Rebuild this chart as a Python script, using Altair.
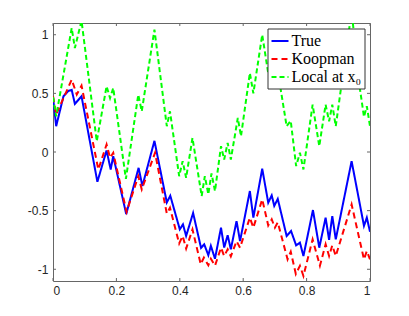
import altair as alt
import pandas as pd

series_names = ["True", "Koopman", "Local at x₀"]
series_colors = ["#0000ff", "#ff0000", "#00ff00"]

true_x = [0, 0.01, 0.033, 0.048, 0.059, 0.069, 0.09, 0.14, 0.169, 0.182, 0.19, 0.231, 0.27, 0.282,
          0.32, 0.359, 0.37, 0.40, 0.41, 0.42, 0.442, 0.467, 0.477, 0.49, 0.498, 0.511, 0.53, 0.54,
          0.551, 0.561, 0.579, 0.59, 0.621, 0.632, 0.66, 0.679, 0.69, 0.698, 0.709, 0.737, 0.751,
          0.767, 0.779, 0.79, 0.82, 0.84, 0.86, 0.871, 0.881, 0.892, 0.942, 0.981, 0.99, 1.0]
true_y = [0.47, 0.22, 0.475, 0.52, 0.53, 0.41, 0.475, -0.254, 0.013, -0.149, -0.035, -0.53, -0.135,
          -0.29, 0.095, -0.43, -0.373, -0.66, -0.617, -0.716, -0.52, -0.818, -0.787, -0.88, -0.80,
          -0.91, -0.645, -0.815, -0.71, -0.83, -0.589, -0.76, -0.333, -0.56, -0.143, -0.432, -0.37,
          -0.46, -0.40, -0.716, -0.674, -0.796, -0.773, -0.887, -0.495, -0.816, -0.56, -0.75, -0.546,
          -0.745, -0.078, -0.63, -0.56, -0.68]

koop_x = [0, 0.01, 0.059, 0.075, 0.09, 0.143, 0.169, 0.18, 0.19, 0.232, 0.269, 0.28, 0.322, 0.359,
          0.369, 0.398, 0.409, 0.42, 0.44, 0.466, 0.476, 0.49, 0.498, 0.511, 0.53, 0.54, 0.551, 0.561,
          0.579, 0.59, 0.621, 0.632, 0.66, 0.679, 0.69, 0.70, 0.709, 0.74, 0.75, 0.766, 0.779, 0.79,
          0.819, 0.842, 0.86, 0.871, 0.881, 0.892, 0.942, 0.981, 0.99, 1.0]
koop_y = [0.475, 0.32, 0.617, 0.49, 0.566, -0.149, 0.064, -0.05, -0.007, -0.51, -0.206, -0.319,
          -0.007, -0.525, -0.475, -0.78, -0.716, -0.824, -0.66, -0.957, -0.90, -0.966, -0.91, -0.97,
          -0.816, -0.887, -0.83, -0.89, -0.76, -0.816, -0.56, -0.645, -0.404, -0.626, -0.574, -0.645,
          -0.60, -0.915, -0.85, -1.04, -0.97, -1.057, -0.745, -0.97, -0.787, -0.887, -0.796, -0.887,
          -0.447, -0.915, -0.844, -0.915]

local_x = [0, 0.01, 0.059, 0.069, 0.09, 0.138, 0.169, 0.18, 0.19, 0.23, 0.269, 0.28, 0.32, 0.359,
           0.369, 0.398, 0.409, 0.42, 0.44, 0.469, 0.479, 0.49, 0.50, 0.511, 0.53, 0.54, 0.551, 0.561,
           0.583, 0.593, 0.621, 0.632, 0.66, 0.679, 0.69, 0.698, 0.709, 0.737, 0.75, 0.767, 0.779,
           0.79, 0.819, 0.84, 0.86, 0.871, 0.881, 0.892, 0.942, 0.966, 0.981, 0.99, 1.0]
local_y = [0.47, 0.305, 1.057, 0.887, 1.12, 0.092, 0.56, 0.46, 0.546, -0.23, 0.489, 0.347, 1.043,
           0.22, 0.347, -0.206, -0.078, -0.22, 0.12, -0.376, -0.206, -0.36, -0.183, -0.333, 0.05,
           -0.064, 0.078, -0.064, 0.29, 0.134, 0.674, 0.50, 1.0, 0.67, 0.72, 0.63, 0.69, 0.22, 0.265,
           -0.12, -0.007, -0.149, 0.404, 0.05, 0.404, 0.262, 0.404, 0.22, 1.2, 0.58, 0.30, 0.39, 0.22]

x_ticks = [0, 0.2, 0.4, 0.6, 0.8, 1]
y_ticks = [-1, -0.5, 0, 0.5, 1]

rows = []
for name, xs, ys in zip(series_names, [true_x, koop_x, local_x], [true_y, koop_y, local_y]):
    for i, (a, b) in enumerate(zip(xs, ys)):
        rows.append({"series": name, "x": a, "y": b, "i": i})
df = pd.DataFrame(rows)

W, H = 317, 258
xscale = alt.Scale(domain=[0, 1], nice=False, zero=False)
yscale = alt.Scale(domain=[-1.1, 1.1], nice=False, zero=False)

label_font = "Liberation Sans"
axis_common = dict(title=None, domain=False, ticks=False, grid=False, labelFont=label_font,
                   labelFontSize=12, labelColor="#262626", labelExpr="datum.value + ''")

lines = alt.Chart(df).mark_line(clip=True, strokeJoin="miter").encode(
    x=alt.X("x:Q", scale=xscale, axis=alt.Axis(values=x_ticks, labelPadding=4, **axis_common)),
    y=alt.Y("y:Q", scale=yscale, axis=alt.Axis(values=y_ticks, labelPadding=5, **axis_common)),
    color=alt.Color("series:N", scale=alt.Scale(domain=series_names, range=series_colors),
                    legend=alt.Legend(title=None)),
    strokeDash=alt.StrokeDash("series:N",
                              scale=alt.Scale(domain=series_names, range=[[1, 0], [6, 4], [5, 3]]),
                              legend=alt.Legend(title=None)),
    strokeWidth=alt.StrokeWidth("series:N", scale=alt.Scale(domain=series_names, range=[2, 2, 1.4]),
                                legend=alt.Legend(title=None)),
    order="i:Q",
)

xt = pd.DataFrame({"t": x_ticks})
yt = pd.DataFrame({"t": y_ticks})
tick_color = "#666666"
bx = alt.Chart(xt).mark_rule(color=tick_color, strokeWidth=1).encode(
    x=alt.X("t:Q", scale=xscale), y=alt.value(H), y2=alt.value(H - 3))
tx = alt.Chart(xt).mark_rule(color=tick_color, strokeWidth=1).encode(
    x=alt.X("t:Q", scale=xscale), y=alt.value(0), y2=alt.value(3))
ly = alt.Chart(yt).mark_rule(color=tick_color, strokeWidth=1).encode(
    y=alt.Y("t:Q", scale=yscale), x=alt.value(0), x2=alt.value(3))
ry = alt.Chart(yt).mark_rule(color=tick_color, strokeWidth=1).encode(
    y=alt.Y("t:Q", scale=yscale), x=alt.value(W), x2=alt.value(W - 3))

chart = alt.layer(lines, bx, tx, ly, ry).properties(
    width=W, height=H,
    autosize=alt.AutoSizeParams(type="none"),
    padding={"left": 45, "top": 15, "right": 25, "bottom": 20},
).configure_view(
    stroke="#666666", strokeWidth=1
).configure_legend(
    orient="none", legendX=214.5, legendY=5.5,
    fillColor="white", strokeColor="#333333", padding=3,
    labelFont="Liberation Serif", labelFontSize=16, labelColor="black",
    symbolType="stroke", symbolSize=289, rowPadding=0, labelOffset=2, labelLimit=300,
    cornerRadius=0,
)

chart.save("out.html", embed_options={"renderer": "svg", "actions": False})
